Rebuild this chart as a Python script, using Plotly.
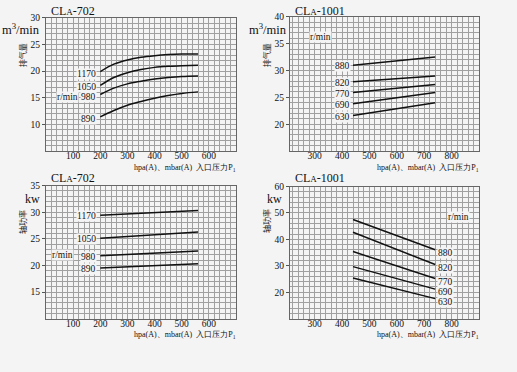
import plotly.graph_objects as go

W, H = 517, 372
BG = "#f4f4f4"
SERIF = "Liberation Serif, Times New Roman, serif"
CJK = "Noto Sans CJK SC"

# ---- data ----
x_702_flow = [200, 250, 300, 350, 400, 450, 500, 560]
flow_702 = {
    "1170": [19.9, 21.3, 22.1, 22.6, 22.9, 23.1, 23.2, 23.2],
    "1050": [17.3, 18.8, 19.7, 20.3, 20.7, 20.9, 21.0, 21.1],
    "980": [15.6, 16.8, 17.6, 18.1, 18.5, 18.8, 19.0, 19.1],
    "890": [11.4, 12.6, 13.6, 14.3, 14.9, 15.4, 15.8, 16.1],
}
x_1001_flow = [440, 740]
flow_1001 = {
    "880": [31.0, 32.5],
    "820": [27.9, 29.0],
    "770": [25.9, 27.4],
    "690": [23.8, 25.9],
    "630": [21.6, 24.0],
}
x_702_pow = [200, 560]
pow_702 = {
    "1170": [29.4, 30.3],
    "1050": [25.1, 26.3],
    "980": [21.8, 22.7],
    "890": [19.5, 20.3],
}
x_1001_pow = [440, 740]
pow_1001 = {
    "880": [47.5, 36.1],
    "820": [42.7, 30.5],
    "770": [35.4, 25.2],
    "690": [29.7, 21.2],
    "630": [25.4, 17.6],
}
xt_702 = [100, 200, 300, 400, 500, 600]
xt_1001 = [300, 400, 500, 600, 700, 800]
yt_tl = [10, 15, 20, 25, 30]
yt_tr = [20, 25, 30, 35, 40]
yt_bl = [15, 20, 25, 30, 35]
yt_br = [20, 30, 40, 50, 60]

# ---- panel layout in pixels: (x0, x1, ytop, ybottom) ----
panels = {
    "1": (46, 236, 13, 148),
    "2": (290, 479, 12, 148),
    "3": (46, 236, 183, 318),
    "4": (290, 479, 184, 318),
}

def px(x):
    return x / W

def py(y):
    return 1 - y / H

fig = go.Figure()

def add_lines(idx, xs, series, shape="linear"):
    sfx = "" if idx == "1" else idx
    for name, ys in series.items():
        fig.add_trace(go.Scatter(
            x=xs, y=ys, mode="lines", name=name,
            line=dict(color="#111", width=1.5, shape=shape, smoothing=1.0),
            xaxis="x" + sfx, yaxis="y" + sfx, showlegend=False, hoverinfo="skip"))

add_lines("1", x_702_flow, flow_702, "spline")
add_lines("2", x_1001_flow, flow_1001)
add_lines("3", x_702_pow, pow_702)
add_lines("4", x_1001_pow, pow_1001)

grid_c = "#a0a0a0"
axis_specs = {
    "1": dict(xr=[0, 700], xt=xt_702, yr=[5, 30], yt=yt_tl, ydt=1),
    "2": dict(xr=[210, 900], xt=xt_1001, yr=[15, 40], yt=yt_tr, ydt=1),
    "3": dict(xr=[0, 700], xt=xt_702, yr=[10, 35], yt=yt_bl, ydt=1),
    "4": dict(xr=[210, 900], xt=xt_1001, yr=[10, 60], yt=yt_br, ydt=2),
}
layout = {}
for idx, s in axis_specs.items():
    x0, x1, yt, yb = panels[idx]
    sfx = "" if idx == "1" else idx
    layout["xaxis" + sfx] = dict(
        domain=[px(x0), px(x1)], range=s["xr"], anchor="y" + sfx,
        tickmode="array", tickvals=s["xt"], ticks="", ticklen=0, showgrid=True,
        gridcolor=grid_c, gridwidth=0.7,
        minor=dict(dtick=20, tick0=0, showgrid=True, gridcolor=grid_c, gridwidth=0.7),
        showline=True, linecolor="#666", linewidth=1, mirror=True,
        zeroline=False, tickfont=dict(family=SERIF, size=9.5, color="#111"),
        ticklabelstandoff=-4)
    layout["yaxis" + sfx] = dict(
        domain=[py(yb), py(yt)], range=s["yr"], anchor="x" + sfx,
        tickmode="array", tickvals=s["yt"], ticks="outside", ticklen=3,
        tickcolor="#555", showgrid=True, gridcolor=grid_c, gridwidth=0.7,
        minor=dict(dtick=s["ydt"], tick0=0, showgrid=True, gridcolor=grid_c, gridwidth=0.7),
        showline=True, linecolor="#666", linewidth=1, mirror=True,
        zeroline=False, tickfont=dict(family=SERIF, size=9.5, color="#111"))

ann = []

def label(idx, x, y, text, xanchor, xshift=0, yshift=0):
    sfx = "" if idx == "1" else idx
    ann.append(dict(x=x, y=y, xref="x" + sfx, yref="y" + sfx, text=text,
                    showarrow=False, xanchor=xanchor, yanchor="middle",
                    xshift=xshift, yshift=yshift, bgcolor=BG, borderpad=0,
                    font=dict(family=SERIF, size=9.5, color="#111")))

for name, ys in flow_702.items():
    label("1", x_702_flow[0], ys[0], name, "right", -3, -2)
for name, ys in flow_1001.items():
    label("2", x_1001_flow[0], ys[0], name, "right", -2, -1)
for name, ys in pow_702.items():
    label("3", x_702_pow[0], ys[0], name, "right", -3, -1)
for name, ys in pow_1001.items():
    label("4", x_1001_pow[-1], ys[-1], name, "left", 2, -3)

label("1", 80, 15.2, "r/min", "center")
label("2", 320, 36.2, "r/min", "center")
label("3", 60, 21.9, "r/min", "center")
label("4", 825, 48.5, "r/min", "center")

def paper_text(x, y, text, size, xanchor="left", family=SERIF, angle=0):
    ann.append(dict(x=px(x), y=py(y), xref="paper", yref="paper", text=text,
                    showarrow=False, xanchor=xanchor, yanchor="middle",
                    textangle=angle, font=dict(family=family, size=size, color="#111")))

small_A = "CL<span style='font-size:9px'>A</span>"
paper_text(49, 6, small_A + "-702", 12)
paper_text(293, 6, small_A + "-1001", 12)
paper_text(49, 175, small_A + "-702", 12)
paper_text(293, 175, small_A + "-1001", 12)

paper_text(42, 24, "m<sup>3</sup>/min", 12.5, "right")
paper_text(289, 24, "m<sup>3</sup>/min", 12.5, "right")
paper_text(42, 197, "kw", 12, "right")
paper_text(284, 197, "kw", 12, "right")

paper_text(22, 51, "排气量", 8, "center", CJK, -90)
paper_text(266, 51, "排气量", 8, "center", CJK, -90)
paper_text(22, 220, "轴功率", 8, "center", CJK, -90)
paper_text(266, 219, "轴功率", 8, "center", CJK, -90)

xlab = "hpa(A)、mbar(A)  入口压力P<sub>1</sub>"
paper_text(238, 165, xlab, 8, "right")
paper_text(481, 165, xlab, 8, "right")
paper_text(238, 335, xlab, 8, "right")
paper_text(481, 335, xlab, 8, "right")

fig.update_layout(
    width=W, height=H, margin=dict(l=0, r=0, t=0, b=0), autosize=False,
    paper_bgcolor=BG, plot_bgcolor=BG, showlegend=False,
    annotations=ann, **layout)

fig.write_html(
    "out.html",
    config={"responsive": False, "displayModeBar": False},
    default_width="517px", default_height="372px",
    post_script=(
        "document.documentElement.style.margin='0px';"
        "document.body.style.margin='0px';document.body.style.padding='0px';"
        "document.body.style.overflow='hidden';"
        "var gd=document.getElementById('{plot_id}');"
        "gd.style.position='absolute';gd.style.top='0px';gd.style.left='0px';"
    ),
)
